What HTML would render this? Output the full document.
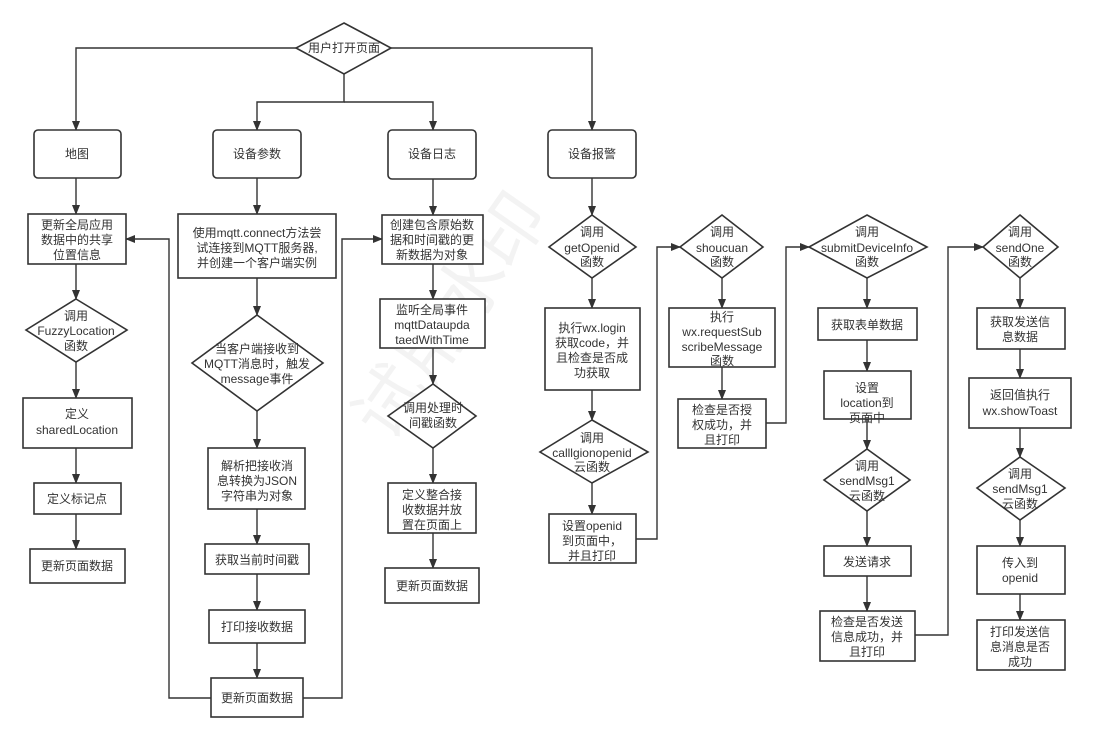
<!DOCTYPE html>
<html><head><meta charset="utf-8"><style>
html,body{margin:0;padding:0;background:#fff;}
svg{display:block;}
text{font-family:"Liberation Sans","Noto Sans CJK SC",sans-serif;font-size:12px;fill:#333;text-anchor:middle;}
.b{fill:#fff;stroke:#333;stroke-width:1.6;}
.l{fill:none;stroke:#333;stroke-width:1.4;}
</style></head><body>
<svg width="1093" height="739" viewBox="0 0 1093 739" xmlns="http://www.w3.org/2000/svg">
<defs><marker id="a" markerWidth="10" markerHeight="10" refX="9" refY="5" orient="auto" markerUnits="userSpaceOnUse"><path d="M0,1 L10,5 L0,9 Z" fill="#333"/></marker></defs>
<text x="470" y="330" transform="rotate(-55 470 330)" style="font-size:70px;fill:#f3f3f3;">试用水印</text>

<g class="l" marker-end="url(#a)">
<path d="M296,48 H76 V130"/>
<path d="M391,48 H592 V130"/>
<path d="M344,74 V102 H257 V130"/>
<path d="M344,102 H433 V130"/>
<path d="M76,178 V214"/><path d="M76,264 V299"/><path d="M76,362 V398"/><path d="M76,448 V483"/><path d="M76,514 V549"/>
<path d="M257,178 V214"/><path d="M257,278 V315"/><path d="M257,411 V448"/><path d="M257,509 V544"/><path d="M257,574 V610"/><path d="M257,643 V678"/>
<path d="M211,698 H169 V239 H126"/>
<path d="M303,698 H342 V239 H382"/>
<path d="M433,179 V215"/><path d="M433,264 V299"/><path d="M433,348 V384"/><path d="M433,448 V483"/><path d="M433,533 V568"/>
<path d="M592,178 V215"/><path d="M592,278 V308"/><path d="M592,390 V420"/><path d="M592,483 V514"/>
<path d="M636,539 H657 V247 H680"/>
<path d="M722,278 V308"/><path d="M722,367 V399"/>
<path d="M766,423 H786 V247 H809"/>
<path d="M867,278 V308"/><path d="M867,340 V371"/><path d="M867,419 V449"/><path d="M867,511 V546"/><path d="M867,576 V611"/>
<path d="M915,635 H948 V247 H983"/>
<path d="M1020,278 V308"/><path d="M1020,349 V378"/><path d="M1020,428 V457"/><path d="M1020,520 V546"/><path d="M1020,594 V620"/>
</g>

<polygon class="b" points="344,23 391,48 344,74 296,48"/>
<text x="344" y="52">用户打开页面</text>

<rect class="b" x="34" y="130" width="87" height="48" rx="4"/><text x="77" y="158">地图</text>
<rect class="b" x="213" y="130" width="88" height="48" rx="4"/><text x="257" y="158">设备参数</text>
<rect class="b" x="388" y="130" width="88" height="49" rx="4"/><text x="432" y="158">设备日志</text>
<rect class="b" x="548" y="130" width="88" height="48" rx="4"/><text x="592" y="158">设备报警</text>

<rect class="b" x="28" y="214" width="98" height="50"/>
<text x="77" y="229">更新全局应用</text><text x="77" y="244">数据中的共享</text><text x="77" y="259">位置信息</text>
<polygon class="b" points="76,299 127,330 76,362 26,330"/>
<text x="76" y="320">调用</text><text x="76" y="335">FuzzyLocation</text><text x="76" y="350">函数</text>
<rect class="b" x="23" y="398" width="109" height="50"/>
<text x="77" y="418">定义</text><text x="77" y="434">sharedLocation</text>
<rect class="b" x="34" y="483" width="87" height="31"/><text x="77" y="503">定义标记点</text>
<rect class="b" x="30" y="549" width="95" height="34"/><text x="77" y="570">更新页面数据</text>

<rect class="b" x="178" y="214" width="158" height="64"/>
<text x="257" y="237">使用mqtt.connect方法尝</text><text x="257" y="252">试连接到MQTT服务器,</text><text x="257" y="267">并创建一个客户端实例</text>
<polygon class="b" points="257,315 323,363 257,411 192,363"/>
<text x="257" y="353">当客户端接收到</text><text x="257" y="368">MQTT消息时，触发</text><text x="257" y="383">message事件</text>
<rect class="b" x="208" y="448" width="97" height="61"/>
<text x="257" y="470">解析把接收消</text><text x="257" y="485">息转换为JSON</text><text x="257" y="500">字符串为对象</text>
<rect class="b" x="205" y="544" width="104" height="30"/><text x="257" y="564">获取当前时间戳</text>
<rect class="b" x="209" y="610" width="96" height="33"/><text x="257" y="631">打印接收数据</text>
<rect class="b" x="211" y="678" width="92" height="39"/><text x="257" y="702">更新页面数据</text>

<rect class="b" x="382" y="215" width="101" height="49"/>
<text x="432" y="229">创建包含原始数</text><text x="432" y="244">据和时间戳的更</text><text x="432" y="259">新数据为对象</text>
<rect class="b" x="380" y="299" width="105" height="49"/>
<text x="432" y="314">监听全局事件</text><text x="432" y="329">mqttDataupda</text><text x="432" y="344">taedWithTime</text>
<polygon class="b" points="433,384 476,416 433,448 388,416"/>
<text x="433" y="412">调用处理时</text><text x="433" y="427">间戳函数</text>
<rect class="b" x="388" y="483" width="88" height="50"/>
<text x="432" y="499">定义整合接</text><text x="432" y="514">收数据并放</text><text x="432" y="529">置在页面上</text>
<rect class="b" x="385" y="568" width="94" height="35"/><text x="432" y="590">更新页面数据</text>

<polygon class="b" points="592,215 636,247 592,278 549,247"/>
<text x="592" y="236">调用</text><text x="592" y="252">getOpenid</text><text x="592" y="266">函数</text>
<rect class="b" x="545" y="308" width="95" height="82"/>
<text x="592" y="332">执行wx.login</text><text x="592" y="347">获取code，并</text><text x="592" y="362">且检查是否成</text><text x="592" y="377">功获取</text>
<polygon class="b" points="592,420 648,452 592,483 540,452"/>
<text x="592" y="442">调用</text><text x="592" y="457">calllgionopenid</text><text x="592" y="471">云函数</text>
<rect class="b" x="549" y="514" width="87" height="49"/>
<text x="592" y="530">设置openid</text><text x="592" y="545">到页面中，</text><text x="592" y="560">并且打印</text>

<polygon class="b" points="722,215 763,247 722,278 680,247"/>
<text x="722" y="236">调用</text><text x="722" y="252">shoucuan</text><text x="722" y="266">函数</text>
<rect class="b" x="669" y="308" width="106" height="59"/>
<text x="722" y="321">执行</text><text x="722" y="336">wx.requestSub</text><text x="722" y="351">scribeMessage</text><text x="722" y="365">函数</text>
<rect class="b" x="678" y="399" width="88" height="49"/>
<text x="722" y="414">检查是否授</text><text x="722" y="429">权成功，并</text><text x="722" y="444">且打印</text>

<polygon class="b" points="867,215 927,247 867,278 809,247"/>
<text x="867" y="236">调用</text><text x="867" y="252">submitDeviceInfo</text><text x="867" y="266">函数</text>
<rect class="b" x="818" y="308" width="99" height="32"/><text x="867" y="329">获取表单数据</text>
<rect class="b" x="824" y="371" width="87" height="48"/>
<text x="867" y="392">设置</text><text x="867" y="407">location到</text><text x="867" y="422">页面中</text>
<polygon class="b" points="867,449 910,480 867,511 824,480"/>
<text x="867" y="470">调用</text><text x="867" y="485">sendMsg1</text><text x="867" y="500">云函数</text>
<rect class="b" x="824" y="546" width="87" height="30"/><text x="867" y="566">发送请求</text>
<rect class="b" x="820" y="611" width="95" height="50"/>
<text x="867" y="626">检查是否发送</text><text x="867" y="641">信息成功，并</text><text x="867" y="656">且打印</text>

<polygon class="b" points="1020,215 1058,247 1020,278 983,247"/>
<text x="1020" y="236">调用</text><text x="1020" y="252">sendOne</text><text x="1020" y="266">函数</text>
<rect class="b" x="977" y="308" width="88" height="41"/>
<text x="1020" y="326">获取发送信</text><text x="1020" y="341">息数据</text>
<rect class="b" x="969" y="378" width="102" height="50"/>
<text x="1020" y="399">返回值执行</text><text x="1020" y="415">wx.showToast</text>
<polygon class="b" points="1020,457 1065,488 1020,520 977,488"/>
<text x="1020" y="478">调用</text><text x="1020" y="493">sendMsg1</text><text x="1020" y="508">云函数</text>
<rect class="b" x="977" y="546" width="88" height="48"/>
<text x="1020" y="567">传入到</text><text x="1020" y="582">openid</text>
<rect class="b" x="977" y="620" width="88" height="50"/>
<text x="1020" y="636">打印发送信</text><text x="1020" y="651">息消息是否</text><text x="1020" y="666">成功</text>
</svg>
</body></html>
